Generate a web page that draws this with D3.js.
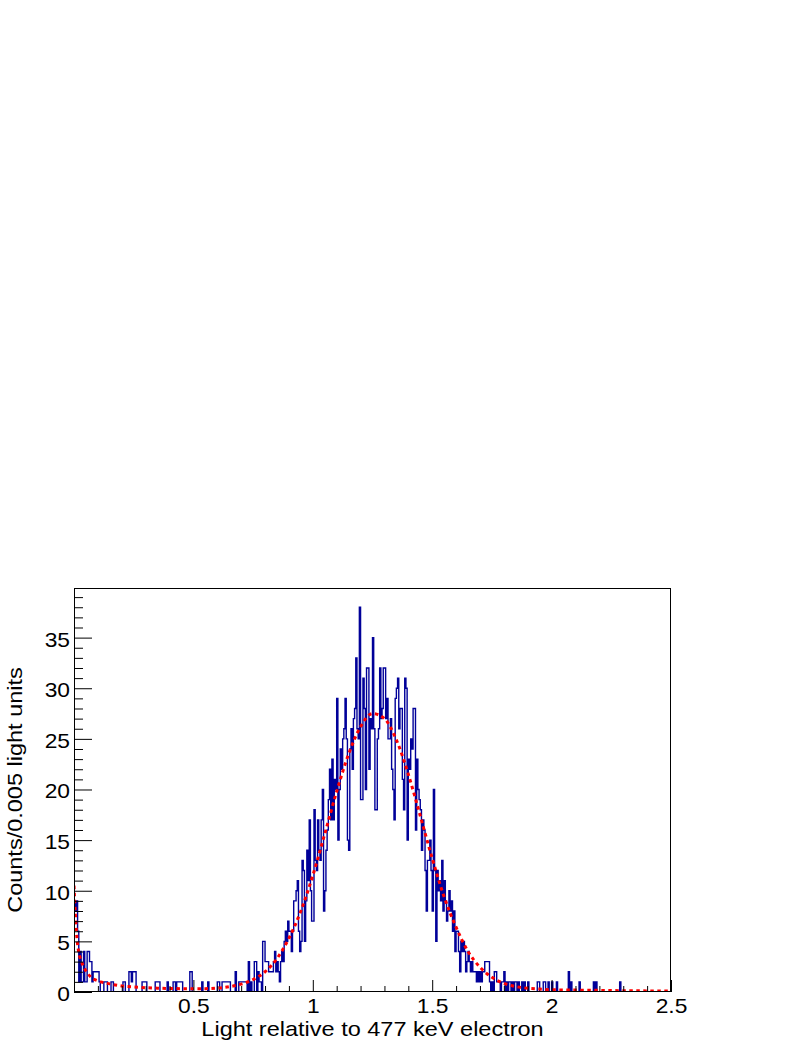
<!DOCTYPE html>
<html>
<head>
<meta charset="utf-8">
<script src="https://cdn.jsdelivr.net/npm/d3@7"></script>
<style>
  body { margin: 0; background: #fff; }
  svg { display: block; }
  text { font-family: 'Liberation Sans', Arial, sans-serif; }
</style>
</head>
<body>
<svg width="806" height="1042"></svg>
<script>
// histogram: 500 bins of 0.005 from 0 to 2.5
var binWidth = 0.005;
var binCounts = [
  9,8,9,6,1,4,1,1,4,1,
  1,4,4,3,3,1,2,2,2,2,
  2,1,0,0,0,1,1,1,0,0,
  0,1,1,0,0,0,0,0,0,0,
  0,1,1,0,0,0,2,2,1,2,
  2,2,0,0,0,0,0,1,1,1,
  1,0,0,0,0,0,0,0,1,1,
  1,1,0,0,0,0,0,0,1,0,
  0,0,0,1,1,0,1,1,1,1,
  1,0,0,0,0,0,0,2,2,0,
  0,0,0,0,0,0,0,1,0,0,
  0,0,1,0,0,0,0,0,0,0,
  1,1,0,0,1,1,1,1,1,1,
  1,0,0,0,0,2,0,0,1,1,
  1,1,1,1,1,0,3,0,1,0,
  0,3,3,0,2,1,1,0,5,5,
  3,3,3,2,2,2,2,3,4,2,
  3,2,1,3,4,3,5,6,5,7,
  6,6,4,6,9,9,10,11,6,4,
  5,13,12,5,9,14,11,17,10,7,
  7,18,13,12,17,14,13,17,20,8,
  10,14,16,19,22,17,23,17,21,20,
  29,15,20,24,22,25,26,29,25,15,
  14,24,26,22,27,28,33,26,25,38,
  19,19,31,28,20,32,32,22,27,26,
  35,26,18,18,25,26,32,27,28,32,
  32,27,29,25,25,27,22,20,17,29,
  30,31,26,28,28,21,18,31,30,15,
  23,22,25,24,28,28,16,23,20,19,
  18,14,17,16,12,8,13,13,15,12,
  8,20,12,5,12,10,11,9,13,8,
  11,9,7,8,10,8,9,6,8,4,
  6,6,4,2,5,4,5,4,2,3,
  4,3,2,3,2,2,2,1,2,1,
  2,1,2,2,3,3,3,3,1,0,
  1,0,2,2,1,1,1,0,1,1,
  2,0,1,0,1,1,0,1,0,1,
  1,0,1,0,0,1,0,1,0,0,
  1,0,0,0,0,0,0,0,1,1,
  0,0,0,1,1,0,0,1,0,0,
  1,0,0,0,1,0,0,0,0,0,
  0,0,0,0,2,0,1,0,0,0,
  0,0,0,1,0,0,0,0,0,0,
  0,0,0,0,0,1,0,1,0,0,
  0,0,0,0,0,0,0,0,0,0,
  0,0,0,0,0,0,0,1,0,0,
  0,0,0,0,0,0,0,0,0,0,
  0,0,0,0,0,0,0,0,0,0,
  0,0,0,0,0,0,0,0,0,0,
  0,0,0,0,0,0,0,0,0,0
];

// fitted curve
var fitX = [0, 0.005, 0.01, 0.015, 0.02, 0.03, 0.04, 0.055, 0.075, 0.1,
  0.15, 0.2, 0.25, 0.3, 0.35, 0.4, 0.45, 0.5, 0.55, 0.6,
  0.65, 0.7, 0.75, 0.8, 0.85, 0.9, 0.95, 1.0, 1.05, 1.1,
  1.15, 1.2, 1.25, 1.3, 1.35, 1.4, 1.45, 1.5, 1.55, 1.6,
  1.65, 1.7, 1.75, 1.8, 1.85, 1.9, 1.95, 2.0, 2.1, 2.2,
  2.3, 2.4, 2.5];
var fitY = [10.5, 8.0, 6.0, 4.7, 3.9, 3.1, 2.5, 1.9, 1.4, 1.1,
  0.8, 0.6, 0.5, 0.42, 0.38, 0.35, 0.33, 0.32, 0.33, 0.38,
  0.52, 0.78, 1.23, 2.0, 3.3, 5.3, 8.0, 11.5, 15.6, 19.8,
  23.5, 26.2, 27.5, 27.0, 24.9, 21.5, 17.4, 13.2, 9.4, 6.4,
  4.0, 2.45, 1.45, 0.86, 0.54, 0.37, 0.29, 0.22, 0.19, 0.16,
  0.13, 0.11, 0.09];

var xTickValues = [0.5, 1, 1.5, 2, 2.5];
var xTickLabels = ['0.5', '1', '1.5', '2', '2.5'];
var yTickValues = [0, 5, 10, 15, 20, 25, 30, 35];
var yTickLabels = ['0', '5', '10', '15', '20', '25', '30', '35'];

var xTitle = 'Light relative to 477 keV electron';
var yTitle = 'Counts/0.005 light units';

// frame edges (note: "top" is taken by window.top)
var frameL = 74, frameR = 671, frameT = 588, frameB = 992;
var labelSize = 20, titleSize = 21;
// the original glyphs are drawn wider than Liberation Sans
var labelStretch = 1.14, titleStretch = 1.12;

var svg = d3.select('svg');

var x = d3.scaleLinear().domain([0, 2.5]).range([frameL, frameR]);
var y = d3.scaleLinear().domain([0, 39.9]).range([frameB, frameT]);

svg.append('defs').append('clipPath').attr('id', 'frame')
    .append('rect')
    .attr('x', frameL).attr('y', frameT)
    .attr('width', frameR - frameL).attr('height', frameB - frameT);

// histogram outline as steps
var pts = [[x(0), y(0)]];
binCounts.forEach(function(c, i) {
    pts.push([x(i * binWidth), y(c)]);
    pts.push([x((i + 1) * binWidth), y(c)]);
});
pts.push([x(binCounts.length * binWidth), y(0)]);

svg.append('path')
    .attr('clip-path', 'url(#frame)')
    .attr('d', d3.line()(pts))
    .attr('fill', 'none')
    .attr('stroke', '#000099')
    .attr('stroke-width', 1.4);

// fit
var fitLine = d3.line()
    .x(function(d, i) { return x(fitX[i]); })
    .y(function(d) { return y(d); })
    .curve(d3.curveMonotoneX);

svg.append('path')
    .attr('clip-path', 'url(#frame)')
    .attr('d', fitLine(fitY))
    .attr('fill', 'none')
    .attr('stroke', '#ff0000')
    .attr('stroke-width', 3)
    .attr('stroke-dasharray', '3.5,3.5');

// axes: ticks point inward
var xMinor = d3.range(0.1, 2.5, 0.1).filter(function(v) { return Math.abs(v * 2 - Math.round(v * 2)) > 1e-6; });
var yMinor = d3.range(1, 40, 1).filter(function(v) { return v % 5 !== 0; });

function styleAxis(g) {
    g.select('.domain').remove();
    g.selectAll('line').attr('stroke', '#000').attr('stroke-width', 1);
    g.selectAll('text')
        .attr('fill', '#000')
        .style('font-size', labelSize + 'px')
        .style('font-family', "'Liberation Sans', Arial, sans-serif")
        .attr('transform', 'scale(' + labelStretch + ',1)');
}

svg.append('g')
    .attr('transform', 'translate(0,' + frameB + ')')
    .call(d3.axisBottom(x).tickValues(xTickValues).tickSize(-12).tickPadding(7)
        .tickFormat(function(d, i) { return xTickLabels[i]; }))
    .call(styleAxis);

svg.append('g')
    .attr('transform', 'translate(0,' + frameB + ')')
    .call(d3.axisBottom(x).tickValues(xMinor).tickSize(-6).tickFormat(''))
    .call(styleAxis);

var yAxis = svg.append('g')
    .attr('transform', 'translate(' + frameL + ',0)')
    .call(d3.axisLeft(y).tickValues(yTickValues).tickSize(-18).tickPadding(4)
        .tickFormat(function(d, i) { return yTickLabels[i]; }))
    .call(styleAxis);
yAxis.selectAll('text')
    .attr('x', -4 / labelStretch)
    .attr('dy', '0.42em');

svg.append('g')
    .attr('transform', 'translate(' + frameL + ',0)')
    .call(d3.axisLeft(y).tickValues(yMinor).tickSize(-9).tickFormat(''))
    .call(styleAxis);

// frame
svg.append('rect')
    .attr('x', frameL + 0.5).attr('y', frameT + 0.5)
    .attr('width', frameR - frameL - 1).attr('height', frameB - frameT - 1)
    .attr('fill', 'none')
    .attr('stroke', '#000')
    .attr('stroke-width', 1);

// titles
svg.append('text')
    .attr('transform', 'translate(' + ((frameL + frameR) / 2) + ',1036) scale(' + titleStretch + ',1)')
    .attr('text-anchor', 'middle')
    .style('font-size', titleSize + 'px')
    .text(xTitle);

svg.append('text')
    .attr('transform', 'translate(22,' + ((frameT + frameB) / 2) + ') rotate(-90) scale(' + titleStretch + ',1)')
    .attr('text-anchor', 'middle')
    .style('font-size', titleSize + 'px')
    .text(yTitle);
</script>
</body>
</html>
